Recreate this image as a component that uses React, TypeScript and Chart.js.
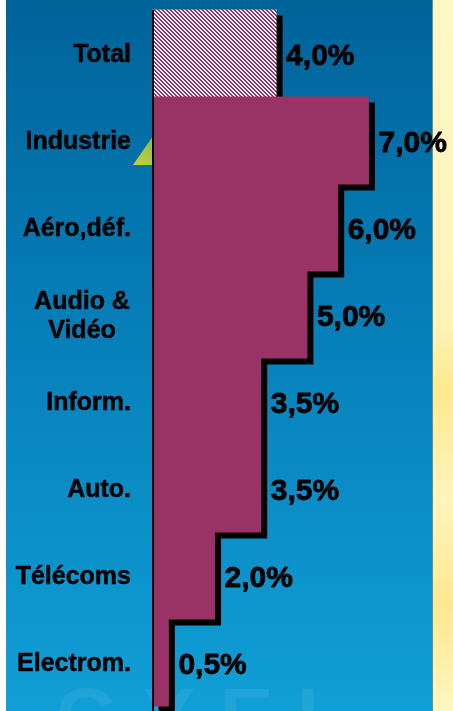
import React, { useEffect, useRef } from "react";
import { Chart, registerables } from "chart.js";

Chart.register(...registerables);

const categories: (string | string[])[] = [
  "Total",
  "Industrie",
  "Aéro,déf.",
  ["Audio &", "Vidéo"],
  "Inform.",
  "Auto.",
  "Télécoms",
  "Electrom.",
];
const growth: number[] = [4.0, 7.0, 6.0, 5.0, 3.5, 3.5, 2.0, 0.5];
const xMax = 9;

const PURPLE = "#993366";

function makeHatch(): CanvasPattern | string {
  const c = document.createElement("canvas");
  c.width = 4;
  c.height = 4;
  const g = c.getContext("2d");
  if (!g) return PURPLE;
  g.fillStyle = "#d6f6fb";
  g.fillRect(0, 0, 4, 4);
  g.fillStyle = PURPLE;
  for (let i = 0; i < 4; i++) {
    g.fillRect(i, i, 1, 1);
    g.fillRect((i + 1) % 4, i, 1, 1);
  }
  return g.createPattern(c, "repeat") || PURPLE;
}

const bgPlugin = {
  id: "bgPlugin",
  beforeDraw(chart: any) {
    const { ctx, width, height } = chart;
    ctx.save();
    ctx.fillStyle = "#ffffff";
    ctx.fillRect(0, 0, width, height);
    const grad = ctx.createLinearGradient(0, 0, 0, height);
    grad.addColorStop(0, "#00639a");
    grad.addColorStop(0.5, "#0781bb");
    grad.addColorStop(1, "#109fd6");
    ctx.fillStyle = grad;
    ctx.fillRect(6, 0, 433 - 6, height);
    const yg = ctx.createLinearGradient(0, 0, 0, height);
    yg.addColorStop(0, "#fff7c4");
    yg.addColorStop(0.45, "#fff3b8");
    yg.addColorStop(0.55, "#fde98e");
    yg.addColorStop(0.7, "#fff4bc");
    yg.addColorStop(0.85, "#fde890");
    yg.addColorStop(1, "#fff6c0");
    ctx.fillStyle = yg;
    ctx.fillRect(433, 0, width - 433, height);
    ctx.fillStyle = "#6a8f9a";
    ctx.fillRect(432, 0, 1, height);
    ctx.fillStyle = "rgba(255,255,255,0.07)";
    ctx.font = "bold 82px 'Liberation Sans', Arial, sans-serif";
    ctx.textBaseline = "alphabetic";
    ctx.fillText("G X E I", 55, 745);
    const tg = ctx.createLinearGradient(133, 165, 152, 138);
    tg.addColorStop(0, "#c8d238");
    tg.addColorStop(1, "#8fb84a");
    ctx.fillStyle = tg;
    ctx.beginPath();
    ctx.moveTo(133, 165);
    ctx.lineTo(153, 165);
    ctx.lineTo(153, 136);
    ctx.closePath();
    ctx.fill();
    ctx.restore();
  },
};

const shadowPlugin = {
  id: "shadowPlugin",
  beforeDatasetsDraw(chart: any) {
    const ctx = chart.ctx;
    ctx.save();
    ctx.shadowColor = "#000000";
    ctx.shadowBlur = 0;
    ctx.shadowOffsetX = 6;
    ctx.shadowOffsetY = 6;
  },
  afterDatasetsDraw(chart: any) {
    const ctx = chart.ctx;
    ctx.restore();
    const area = chart.chartArea;
    ctx.save();
    ctx.fillStyle = "#000000";
    ctx.fillRect(area.left - 1, area.top, 2, chart.height - area.top);
    ctx.restore();
  },
};

const labelPlugin = {
  id: "labelPlugin",
  afterDraw(chart: any) {
    const { ctx } = chart;
    const yScale = chart.scales.y;
    const meta = chart.getDatasetMeta(0);
    ctx.save();
    ctx.fillStyle = "#000000";
    ctx.strokeStyle = "#000000";
    ctx.lineJoin = "round";
    ctx.textBaseline = "middle";
    ctx.font = "bold 25px 'Liberation Sans', Arial, sans-serif";
    ctx.lineWidth = 0.5;
    categories.forEach((cat, i) => {
      const y = yScale.getPixelForValue(i) + 2;
      if (Array.isArray(cat)) {
        const lh = 29;
        const y0 = y - ((cat.length - 1) * lh) / 2;
        ctx.textAlign = "center";
        cat.forEach((line, j) => {
          ctx.fillText(line, 82, y0 + j * lh);
          ctx.strokeText(line, 82, y0 + j * lh);
        });
      } else {
        ctx.textAlign = "right";
        ctx.fillText(cat, 131, y);
        ctx.strokeText(cat, 131, y);
      }
    });
    ctx.font = "bold 30px 'Liberation Sans', Arial, sans-serif";
    ctx.textAlign = "left";
    ctx.lineWidth = 0.8;
    meta.data.forEach((bar: any, i: number) => {
      const txt = growth[i].toFixed(1).replace(".", ",") + "%";
      ctx.fillText(txt, bar.x + 10, bar.y + 3);
      ctx.strokeText(txt, bar.x + 10, bar.y + 3);
    });
    ctx.restore();
  },
};

export default function App() {
  const ref = useRef<HTMLCanvasElement | null>(null);

  useEffect(() => {
    document.body.style.margin = "0";
    const canvas = ref.current;
    if (!canvas) return;
    const hatch = makeHatch();
    const colors = growth.map((_, i) => (i === 0 ? hatch : PURPLE));
    const chart = new Chart(canvas, {
      type: "bar",
      data: {
        labels: categories as any,
        datasets: [
          {
            data: growth,
            backgroundColor: colors as any,
            borderWidth: 0,
            categoryPercentage: 1,
            barPercentage: 1,
            inflateAmount: 0.5,
            clip: false,
          } as any,
        ],
      },
      options: {
        indexAxis: "y",
        animation: false,
        responsive: false,
        events: [],
        layout: { padding: { top: 10, bottom: 5, left: 0, right: 23 } },
        plugins: {
          legend: { display: false },
          tooltip: { enabled: false },
        },
        scales: {
          x: {
            display: false,
            min: 0,
            max: xMax,
            afterFit(scale: any) {
              scale.height = 0;
            },
          },
          y: {
            display: true,
            grid: { display: false },
            border: { display: false },
            ticks: { display: false },
            afterFit(scale: any) {
              scale.width = 153;
            },
          },
        },
      },
      plugins: [bgPlugin, shadowPlugin, labelPlugin],
    });
    return () => chart.destroy();
  }, []);

  return (
    <div style={{ width: 453, height: 711 }}>
      <canvas ref={ref} width={453} height={711} style={{ display: "block" }} />
    </div>
  );
}
